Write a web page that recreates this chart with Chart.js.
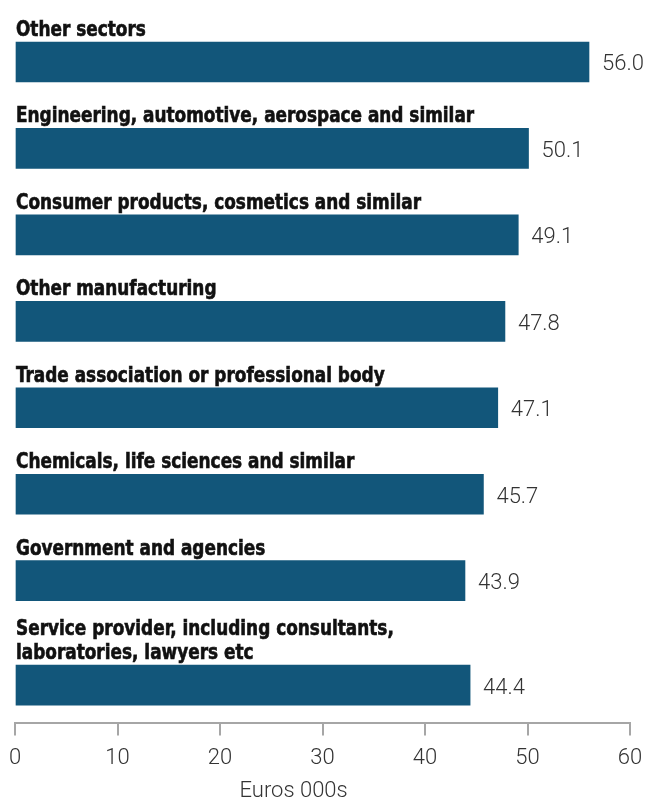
<!DOCTYPE html>
<html lang="en">
<head>
    <meta charset="UTF-8">
    <title>Salary by sector</title>
    <script src="https://cdn.jsdelivr.net/npm/chart.js"></script>
    <style>
        html, body {
            margin: 0;
            padding: 0;
            background: #fff;
        }
        #wrap {
            width: 647px;
            height: 801px;
        }
    </style>
</head>
<body>
    <div id="wrap">
        <canvas id="chart"></canvas>
    </div>

    <script>
        // Sectors (multi-line labels as arrays) and their values in euros 000s
        const sectors = [
            ['Other sectors'],
            ['Engineering, automotive, aerospace and similar'],
            ['Consumer products, cosmetics and similar'],
            ['Other manufacturing'],
            ['Trade association or professional body'],
            ['Chemicals, life sciences and similar'],
            ['Government and agencies'],
            ['Service provider, including consultants,', 'laboratories, lawyers etc']
        ];
        const salaries = [56.0, 50.1, 49.1, 47.8, 47.1, 45.7, 43.9, 44.4];
        const xTicks = [0, 10, 20, 30, 40, 50, 60];
        const axisTitle = 'Euros 000s';

        const BAR_COLOR = '#12567a';
        const LABEL_FONT = "bold 21px 'DejaVu Sans Condensed', 'DejaVu Sans', sans-serif";
        const LABEL_SQUEEZE = 0.895;
        const LINE_H = 18;

        // each bar sits below its own label, so the slot grows with the label's line count
        const slots = [];
        sectors.forEach((lines, i) => {
            if (i === 0) slots.push(62);
            else slots.push(slots[i - 1] + 68.5 + LINE_H * lines.length);
        });

        const labelsPlugin = {
            id: 'barLabels',
            afterDatasetsDraw(chart) {
                const ctx = chart.ctx;
                const meta = chart.getDatasetMeta(0);
                ctx.save();
                meta.data.forEach((bar, i) => {
                    const top = bar.y - bar.height / 2;
                    // sector name above the bar
                    ctx.font = LABEL_FONT;
                    ctx.fillStyle = '#111';
                    ctx.strokeStyle = '#111';
                    ctx.lineWidth = 0.6;
                    ctx.textAlign = 'left';
                    ctx.textBaseline = 'alphabetic';
                    const lines = sectors[i];
                    lines.forEach((line, j) => {
                        const baseline = top - 6 - (lines.length - 1 - j) * 24;
                        ctx.save();
                        ctx.translate(bar.base, baseline);
                        ctx.scale(LABEL_SQUEEZE, 1);
                        ctx.fillText(line, 0, 0);
                        ctx.strokeText(line, 0, 0);
                        ctx.restore();
                    });
                    // value to the right of the bar
                    ctx.font = "300 22px Roboto, sans-serif";
                    ctx.fillStyle = '#333';
                    ctx.textBaseline = 'middle';
                    ctx.fillText(salaries[i].toFixed(1), bar.x + 13, bar.y + 3);
                });
                // axis title
                const area = chart.chartArea;
                ctx.font = "300 22px Roboto, sans-serif";
                ctx.fillStyle = '#333';
                ctx.textAlign = 'center';
                ctx.textBaseline = 'alphabetic';
                ctx.fillText(axisTitle, area.left + (area.right - area.left) * 0.453, chart.height - 4);
                ctx.restore();
            }
        };

        new Chart(document.getElementById('chart'), {
            type: 'bar',
            data: {
                datasets: [{
                    data: salaries.map((v, i) => ({ x: v, y: slots[i] })),
                    backgroundColor: BAR_COLOR,
                    barThickness: 40,
                    borderWidth: 0
                }]
            },
            options: {
                indexAxis: 'y',
                responsive: true,
                maintainAspectRatio: false,
                animation: false,
                layout: {
                    padding: { left: 15, right: 17, top: 0, bottom: 19 }
                },
                plugins: {
                    legend: { display: false },
                    tooltip: { enabled: false }
                },
                scales: {
                    y: {
                        type: 'linear',
                        display: false,
                        reverse: true,
                        offset: false,
                        min: 0,
                        max: 723
                    },
                    x: {
                        type: 'linear',
                        min: xTicks[0],
                        max: xTicks[xTicks.length - 1],
                        afterBuildTicks(scale) {
                            scale.ticks = xTicks.map(v => ({ value: v }));
                        },
                        // end labels fit inside the layout padding already
                        afterFit(scale) {
                            scale.paddingLeft = 0;
                            scale.paddingRight = 0;
                        },
                        border: {
                            display: true,
                            color: '#a6a6a6',
                            width: 2
                        },
                        grid: {
                            drawOnChartArea: false,
                            drawTicks: true,
                            tickLength: 13,
                            color: '#a6a6a6',
                            lineWidth: 2
                        },
                        ticks: {
                            padding: 10,
                            color: '#333',
                            font: { family: 'Roboto', size: 22, weight: '300' }
                        }
                    }
                }
            },
            plugins: [labelsPlugin]
        });
    </script>
</body>
</html>
